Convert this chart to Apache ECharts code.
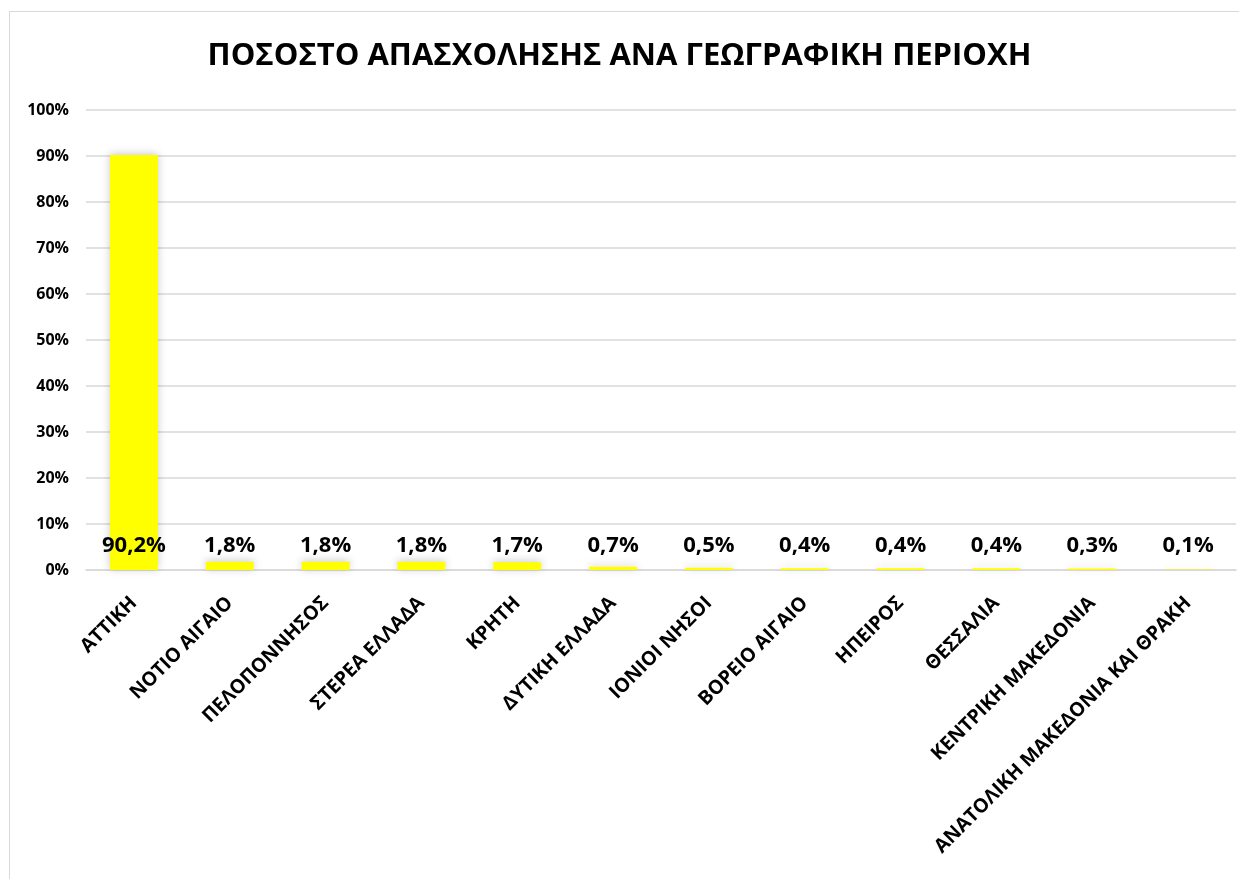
<!DOCTYPE html>
<html>
<head>
<meta charset="utf-8">
<script src="https://cdn.jsdelivr.net/npm/echarts@6/dist/echarts.min.js"></script>
<style>
html,body{margin:0;padding:0;background:#fff;}
#frame{position:absolute;left:9px;top:11px;width:1240px;height:880px;border:1px solid #d9d9d9;box-sizing:border-box;}
#chart{position:absolute;left:0;top:0;width:1239px;height:879px;}
</style>
</head>
<body>
<div id="frame"></div>
<div id="chart"></div>
<script>
const titleText = 'ΠΟΣΟΣΤΟ ΑΠΑΣΧΟΛΗΣΗΣ ΑΝΑ ΓΕΩΓΡΑΦΙΚΗ ΠΕΡΙΟΧΗ';
const categories = ['ΑΤΤΙΚΗ','ΝΟΤΙΟ ΑΙΓΑΙΟ','ΠΕΛΟΠΟΝΝΗΣΟΣ','ΣΤΕΡΕΑ ΕΛΛΑΔΑ','ΚΡΗΤΗ','ΔΥΤΙΚΗ ΕΛΛΑΔΑ','ΙΟΝΙΟΙ ΝΗΣΟΙ','ΒΟΡΕΙΟ ΑΙΓΑΙΟ','ΗΠΕΙΡΟΣ','ΘΕΣΣΑΛΙΑ','ΚΕΝΤΡΙΚΗ ΜΑΚΕΔΟΝΙΑ','ΑΝΑΤΟΛΙΚΗ ΜΑΚΕΔΟΝΙΑ ΚΑΙ ΘΡΑΚΗ'];
const values = [90.2, 1.8, 1.8, 1.8, 1.7, 0.7, 0.5, 0.4, 0.4, 0.4, 0.3, 0.1];
const yTicks = [0,10,20,30,40,50,60,70,80,90,100];

const font = '"Open Sans", "Noto Sans", "DejaVu Sans", sans-serif';
const chart = echarts.init(document.getElementById('chart'), null, {renderer:'canvas'});
chart.setOption({
  animation:false,
  backgroundColor:'transparent',
  title:{
    text:titleText, left:'center', top:36,
    textStyle:{fontFamily:font, fontWeight:'bold', fontSize:31, color:'#000'}
  },
  grid:{left:86, right:3, top:110, bottom:309, containLabel:false},
  xAxis:{
    type:'category', data:categories,
    axisLine:{show:true, lineStyle:{color:'#d9d9d9', width:1.5}},
    axisTick:{show:false},
    axisLabel:{rotate:45, interval:0, margin:30, fontFamily:font, fontWeight:'bold', fontSize:19.5, color:'#000'}
  },
  yAxis:{
    type:'value', min:yTicks[0], max:yTicks[yTicks.length-1], interval:10,
    axisLine:{show:false}, axisTick:{show:false},
    axisLabel:{formatter:'{value}%', fontFamily:font, fontWeight:'bold', fontSize:16, color:'#000', margin:17},
    splitLine:{lineStyle:{color:'#d9d9d9', width:1.5}}
  },
  series:[{
    type:'bar', data:values, barWidth:'50%',
    itemStyle:{color:'#ffff00', shadowBlur:8, shadowColor:'rgba(0,0,0,0.22)', shadowOffsetY:-1},
    label:{
      show:true, position:'insideBottom', distance:13,
      formatter:p=>p.value.toFixed(1).replace('.',',')+'%',
      fontFamily:font, fontWeight:'bold', fontSize:22, color:'#000'
    }
  }]
});
</script>
</body>
</html>
